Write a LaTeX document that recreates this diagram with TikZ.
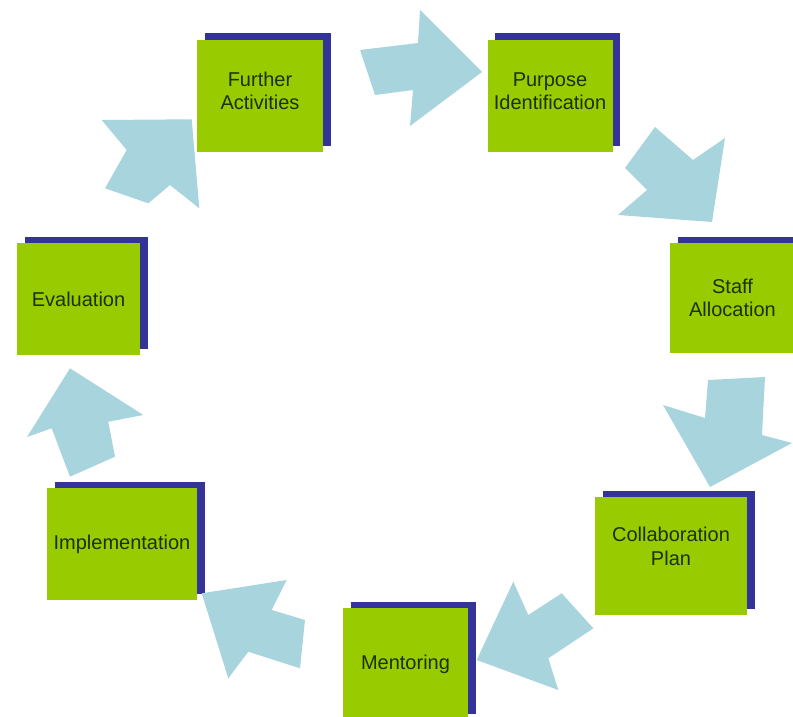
\documentclass[tikz,border=0pt]{standalone}
\usepackage{fontspec}
\setmainfont{Liberation Sans}
\usetikzlibrary{shadows}
\definecolor{boxgreen}{RGB}{153,204,0}
\definecolor{backblue}{RGB}{51,51,153}
\definecolor{arrowblue}{RGB}{168,212,222}
\definecolor{txtdark}{RGB}{28,48,0}
\tikzset{
  stagebox/.style={fill=boxgreen, draw=none, inner sep=0pt, align=center,
    text=txtdark, font=\fontsize{20}{23.5}\selectfont,
    minimum height=112pt,
    drop shadow={shadow xshift=7.5pt, shadow yshift=6.5pt, fill=backblue, opacity=1}},
  blockarrow/.style={fill=arrowblue, draw=none}
}
\begin{document}
\begin{tikzpicture}[x=1pt,y=-1pt]
\useasboundingbox (0,0) rectangle (793,717);
\clip (0,0) rectangle (793,717);
% stage boxes
\node[stagebox, minimum width=126pt, text depth=10pt] (fa) at (260,96) {Further\\Activities};
\node[stagebox, minimum width=125pt, text depth=10pt] (pi) at (550,96) {Purpose\\Identification};
\node[stagebox, minimum width=125pt, minimum height=110pt] (sa) at (732.5,298) {Staff\\Allocation};
\node[stagebox, minimum width=152pt, minimum height=118pt, text depth=20pt] (cp) at (671,556) {Collaboration\\Plan};
\node[stagebox, minimum width=125pt] (me) at (405.5,664) {Mentoring};
\node[stagebox, minimum width=150pt] (im) at (122,544) {Implementation};
\node[stagebox, minimum width=123pt] (ev) at (78.5,299) {Evaluation};
% block arrows
\fill[blockarrow] (360,50) -- (418,43) -- (420,10) -- (482,72) -- (410,126) -- (413,90) -- (375,95) -- cycle;
\fill[blockarrow] (655,127) -- (693,160) -- (725,138) -- (712,222) -- (618,215) -- (647,190) -- (625,168) -- cycle;
\fill[blockarrow] (708,380) -- (765,377) -- (762,435) -- (792,443) -- (710,487) -- (663,405) -- (705,418) -- cycle;
\fill[blockarrow] (561.7,593.3) -- (593.3,628.3) -- (548.3,658.3) -- (558.3,690) -- (476.7,660) -- (513.3,581.7) -- (528.3,615) -- cycle;
\fill[blockarrow] (305,620) -- (300,668.3) -- (248.3,651.7) -- (228.3,678.3) -- (201.7,593.3) -- (286.7,580) -- (271.7,610) -- cycle;
\fill[blockarrow] (115,456.7) -- (70,476.7) -- (51.7,428.3) -- (27,437) -- (70,368.3) -- (143.3,415) -- (108.3,421.7) -- cycle;
\fill[blockarrow] (105,188.3) -- (126.7,150) -- (101.7,120) -- (191.7,119.3) -- (199.3,208.3) -- (170,185) -- (148.3,203.3) -- cycle;
\end{tikzpicture}
\end{document}
